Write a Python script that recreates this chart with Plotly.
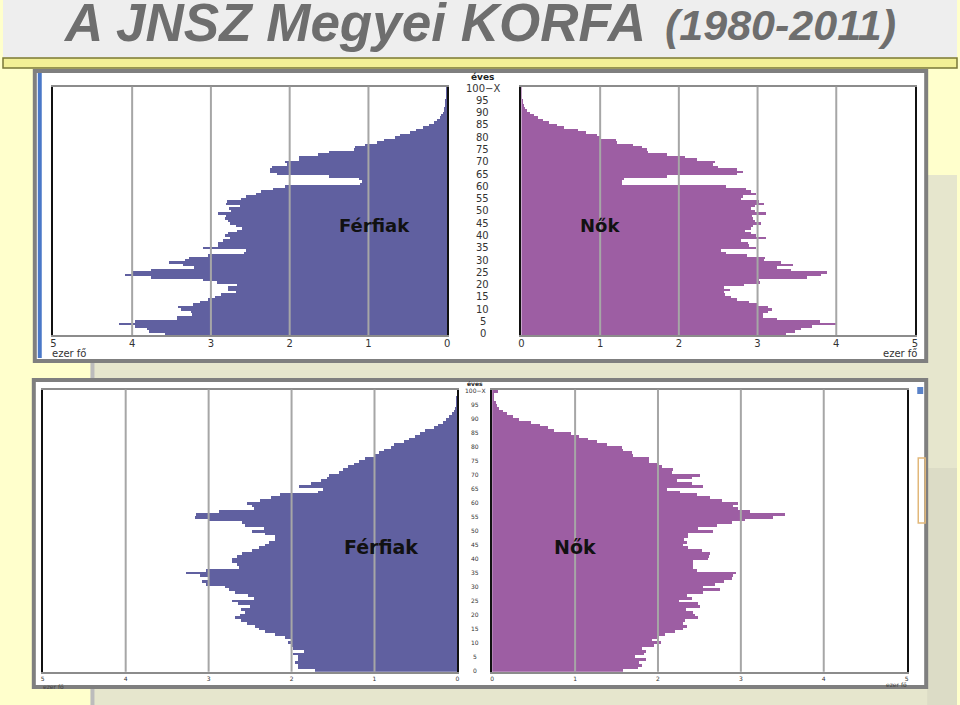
import plotly.graph_objects as go

W, H = 960, 705

# ---------------- data ----------------
ages = list(range(101))
age_tick_vals = list(range(0, 100, 5))
age_tick_text = [str(v) for v in age_tick_vals]
top_age_label = "100\u2212X"
age_unit = "éves"
x_tick_vals = [0, 1, 2, 3, 4, 5]
x_tick_text = ["0", "1", "2", "3", "4", "5"]
grid_vals = [1, 2, 3, 4]
unit_label = "ezer fő"
men_label = "Férfiak"
women_label = "Nők"
title_main = "A JNSZ Megyei KORFA"
title_years = "(1980-2011)"

# thousand persons, ages 0..100 (1980)
men_1980 = [
    3.58, 3.78, 3.81, 3.96, 4.16, 3.96, 3.42, 3.42, 3.24, 3.25,
    3.38, 3.41, 3.22, 3.14, 3.03, 2.94, 2.87, 2.68, 2.78, 2.78,
    2.67, 2.92, 3.10, 3.75, 4.08, 4.00, 3.76, 3.21, 3.35, 3.53,
    3.32, 3.27, 3.03, 2.57, 2.55, 3.10, 2.91, 2.91, 2.84, 2.75,
    2.82, 2.78, 2.66, 2.60, 2.68, 2.75, 2.78, 2.81, 2.80, 2.90,
    2.74, 2.77, 2.63, 2.80, 2.79, 2.61, 2.55, 2.42, 2.36, 2.21,
    2.05, 1.10, 1.08, 1.12, 1.49, 2.15, 2.24, 2.24, 2.22, 2.03,
    2.05, 1.88, 1.88, 1.63, 1.49, 1.18, 1.16, 1.04, 0.89, 0.80,
    0.66, 0.60, 0.47, 0.39, 0.30, 0.22, 0.16, 0.13, 0.09, 0.07,
    0.05, 0.04, 0.03, 0.025, 0.02, 0.015, 0.01, 0.008, 0.005, 0.004,
    0.003,
]
women_1980 = [
    3.37, 3.48, 3.56, 3.70, 4.00, 3.80, 3.25, 3.07, 3.08, 3.14,
    3.19, 3.14, 3.01, 2.90, 2.74, 2.67, 2.59, 2.58, 2.65, 2.58,
    2.83, 3.04, 3.03, 3.64, 3.81, 3.89, 3.43, 3.25, 3.45, 3.30,
    3.09, 3.10, 2.87, 2.61, 2.54, 2.98, 2.90, 2.89, 2.79, 3.11,
    2.98, 2.92, 2.84, 2.92, 2.95, 3.05, 2.97, 2.95, 2.93, 3.11,
    2.97, 2.92, 2.97, 3.09, 3.03, 2.79, 2.82, 2.98, 2.92, 2.86,
    2.61, 1.28, 1.28, 1.31, 1.85, 2.74, 2.82, 2.75, 2.50, 2.44,
    2.47, 2.24, 2.09, 1.85, 1.61, 1.60, 1.54, 1.42, 1.22, 1.21,
    1.01, 0.97, 0.82, 0.72, 0.54, 0.46, 0.36, 0.28, 0.21, 0.16,
    0.11, 0.07, 0.05, 0.035, 0.025, 0.018, 0.012, 0.008, 0.005, 0.004,
    0.003,
]
# thousand persons, ages 0..100 (2011)
men_2011 = [
    1.72, 1.92, 1.93, 1.96, 1.92, 1.92, 1.98, 1.85, 1.98, 2.00,
    2.05, 2.01, 2.08, 2.20, 2.32, 2.39, 2.44, 2.54, 2.61, 2.68,
    2.62, 2.56, 2.61, 2.50, 2.65, 2.72, 2.46, 2.53, 2.68, 2.76,
    2.81, 3.04, 3.08, 3.01, 3.11, 3.28, 3.04, 2.64, 2.66, 2.72,
    2.72, 2.66, 2.60, 2.48, 2.40, 2.32, 2.28, 2.20, 2.20, 2.32,
    2.48, 2.33, 2.56, 2.60, 3.00, 3.17, 3.16, 2.88, 2.45, 2.48,
    2.54, 2.38, 2.25, 2.14, 1.69, 1.62, 1.91, 1.77, 1.65, 1.57,
    1.55, 1.43, 1.38, 1.32, 1.25, 1.19, 1.12, 1.01, 0.95, 0.89,
    0.81, 0.77, 0.65, 0.59, 0.51, 0.45, 0.39, 0.29, 0.24, 0.18,
    0.14, 0.10, 0.07, 0.05, 0.035, 0.025, 0.02, 0.015, 0.01, 0.008,
    0.005,
]
women_2011 = [
    1.58, 1.76, 1.81, 1.77, 1.86, 1.72, 1.83, 1.86, 1.81, 1.95,
    2.04, 1.93, 2.01, 2.09, 2.21, 2.30, 2.35, 2.30, 2.33, 2.48,
    2.45, 2.43, 2.34, 2.51, 2.49, 2.26, 2.41, 2.35, 2.54, 2.75,
    2.54, 2.69, 2.80, 2.89, 2.91, 2.95, 2.47, 2.43, 2.42, 2.43,
    2.61, 2.62, 2.63, 2.53, 2.37, 2.30, 2.35, 2.32, 2.37, 2.37,
    2.67, 2.48, 2.71, 2.90, 3.05, 3.39, 3.53, 3.11, 2.97, 2.91,
    2.97, 2.77, 2.63, 2.47, 2.27, 2.11, 2.54, 2.41, 2.23, 2.41,
    2.51, 2.17, 2.18, 2.05, 2.01, 1.90, 1.89, 1.70, 1.69, 1.58,
    1.57, 1.39, 1.27, 1.16, 1.05, 0.95, 0.75, 0.67, 0.58, 0.47,
    0.32, 0.25, 0.18, 0.13, 0.09, 0.06, 0.045, 0.03, 0.02, 0.015,
    0.07,
]

MEN_COLOR = "#6060a0"
WOMEN_COLOR = "#9d5ea3"
AX_FONT = "DejaVu Sans, Verdana, sans-serif"
TITLE_FONT = "Liberation Sans, Arial, sans-serif"


def px(x):
    return x / W


def py(y):
    return 1 - y / H


fig = go.Figure()

panels = [
    dict(men=men_1980, women=women_1980,
         ydom=[py(335), py(86.8)], xdomL=[px(50.7), px(447)], xdomR=[px(521.7), px(917.7)],
         tick=10, standoff=-2, lab=10, unit_size=9, lab_x=483, unit_shift=11, name_size=18),
    dict(men=men_2011, women=women_2011,
         ydom=[py(671.7), py(389.5)], xdomL=[px(40), px(457.3)], xdomR=[px(492.3), px(909.3)],
         tick=6, standoff=0, lab=6, unit_size=6, lab_x=475, unit_shift=7, name_size=19),
]

annotations = []
shapes = []

# ---------- slide background shapes ----------
shapes += [
    dict(type="rect", xref="paper", yref="paper", x0=0, x1=1, y0=py(57), y1=1,
         fillcolor="#eeeeee", line=dict(width=0), layer="below"),
    dict(type="rect", xref="paper", yref="paper", x0=0, x1=1, y0=py(68), y1=py(58),
         fillcolor="#f3f096", line=dict(color="#7a7738", width=1.5), layer="below"),
    dict(type="rect", xref="paper", yref="paper", x0=px(90), x1=1, y0=0, y1=py(175),
         fillcolor="#e6e6cd", line=dict(width=0), layer="below"),
    dict(type="line", xref="paper", yref="paper", x0=px(90), x1=px(90), y0=0, y1=py(362),
         line=dict(color="#bcbcbc", width=4), layer="below"),
    dict(type="rect", xref="paper", yref="paper", x0=px(930), x1=1, y0=0, y1=py(468),
         fillcolor="#dcdcc6", line=dict(width=0), layer="below"),
    dict(type="rect", xref="paper", yref="paper", x0=px(32), x1=px(929), y0=py(361), y1=py(71),
         fillcolor="white", line=dict(color="#7f7f7f", width=4), layer="below"),
    dict(type="rect", xref="paper", yref="paper", x0=px(35), x1=px(39), y0=py(358), y1=py(73),
         fillcolor="#4a78c8", line=dict(width=0), layer="below"),
    dict(type="rect", xref="paper", yref="paper", x0=px(31), x1=px(929), y0=py(687), y1=py(380),
         fillcolor="white", line=dict(color="#7f7f7f", width=4), layer="below"),
    dict(type="rect", xref="paper", yref="paper", x0=px(921), x1=px(928), y0=py(523), y1=py(458),
         fillcolor="rgba(0,0,0,0)", line=dict(color="#e2b87a", width=1.5), layer="below"),
    dict(type="rect", xref="paper", yref="paper", x0=px(920), x1=px(926), y0=py(394), y1=py(387),
         fillcolor="#5a82c8", line=dict(width=0), layer="below"),
]

layout_axes = {}
idx = 1
for p in panels:
    for side in ("L", "R"):
        xa = "x" if idx == 1 else f"x{idx}"
        ya = "y" if idx == 1 else f"y{idx}"
        xname = "xaxis" if idx == 1 else f"xaxis{idx}"
        yname = "yaxis" if idx == 1 else f"yaxis{idx}"
        vals = p["men"] if side == "L" else p["women"]
        color = MEN_COLOR if side == "L" else WOMEN_COLOR
        fig.add_trace(go.Bar(x=vals, y=ages, orientation="h", xaxis=xa, yaxis=ya,
                             marker=dict(color=color, line=dict(width=0)),
                             showlegend=False, hoverinfo="x+y"))
        layout_axes[xname] = dict(
            domain=p["xdomL"] if side == "L" else p["xdomR"],
            anchor=ya,
            range=[5, 0] if side == "L" else [0, 5],
            tickvals=x_tick_vals, ticktext=x_tick_text,
            tickfont=dict(family=AX_FONT, size=p["tick"], color="#333333"),
            ticklabelstandoff=p["standoff"],
            ticks="", showgrid=False, zeroline=False,
            showline=True, mirror=True, linecolor="#8c8c8c", linewidth=2,
            fixedrange=True,
        )
        layout_axes[yname] = dict(
            domain=p["ydom"], anchor=xa, range=[-0.5, 100.5],
            showticklabels=False, ticks="", showgrid=False, zeroline=False,
            showline=True, mirror=True, linecolor="#111111", linewidth=2,
            fixedrange=True,
        )
        for g in grid_vals:
            shapes.append(dict(type="line", xref=xa, yref=f"{ya} domain", x0=g, x1=g, y0=0, y1=1,
                               line=dict(color="#a6a6a6", width=2), layer="above"))
        if side == "L":
            for v, t in zip(age_tick_vals, age_tick_text):
                annotations.append(dict(x=px(p["lab_x"]), xref="paper", y=v, yref=ya, text=t,
                                        showarrow=False, xanchor="center", yanchor="middle",
                                        font=dict(family=AX_FONT, size=p["lab"], color="#333333")))
            annotations.append(dict(x=px(p["lab_x"]), xref="paper", y=100, yref=ya, text=top_age_label,
                                    showarrow=False, xanchor="center", yanchor="middle",
                                    font=dict(family=AX_FONT, size=p["lab"], color="#333333")))
            annotations.append(dict(x=px(p["lab_x"]), xref="paper", y=100, yref=ya, text=age_unit,
                                    showarrow=False, xanchor="center", yanchor="middle",
                                    yshift=p["unit_shift"],
                                    font=dict(family=AX_FONT, size=p["unit_size"], color="#222222",
                                              weight="bold")))
            annotations.append(dict(x=0.92, xref=xa, y=44, yref=ya, text=men_label,
                                    showarrow=False, xanchor="center", yanchor="middle",
                                    font=dict(family=AX_FONT, size=p["name_size"],
                                              color="#111111", weight="bold")))
        else:
            annotations.append(dict(x=1.0, xref=xa, y=44, yref=ya, text=women_label,
                                    showarrow=False, xanchor="center", yanchor="middle",
                                    font=dict(family=AX_FONT, size=p["name_size"],
                                              color="#111111", weight="bold")))
        idx += 1

# unit labels
annotations += [
    dict(x=px(47), y=py(354), xref="paper", yref="paper", text=unit_label, showarrow=False,
         xanchor="left", yanchor="middle", font=dict(family=AX_FONT, size=10, color="#333333")),
    dict(x=px(922), y=py(354), xref="paper", yref="paper", text=unit_label, showarrow=False,
         xanchor="right", yanchor="middle", font=dict(family=AX_FONT, size=10, color="#333333")),
    dict(x=px(38), y=py(686), xref="paper", yref="paper", text=unit_label, showarrow=False,
         xanchor="left", yanchor="middle", font=dict(family=AX_FONT, size=6, color="#444444")),
    dict(x=px(912), y=py(684), xref="paper", yref="paper", text=unit_label, showarrow=False,
         xanchor="right", yanchor="middle", font=dict(family=AX_FONT, size=6, color="#444444")),
]

# slide title
annotations += [
    dict(x=px(58), y=py(22), xref="paper", yref="paper", text=title_main, showarrow=False,
         xanchor="left", yanchor="middle",
         font=dict(family=TITLE_FONT, size=53, color="#6e6e6e", weight="bold", style="italic")),
    dict(x=px(664), y=py(25), xref="paper", yref="paper", text=title_years, showarrow=False,
         xanchor="left", yanchor="middle",
         font=dict(family=TITLE_FONT, size=43, color="#6e6e6e", weight="bold", style="italic")),
]

fig.update_layout(
    width=W, height=H,
    margin=dict(l=0, r=0, t=0, b=0),
    paper_bgcolor="#ffffcc",
    plot_bgcolor="white",
    bargap=0,
    showlegend=False,
    shapes=shapes,
    annotations=annotations,
    **layout_axes,
)

fig.write_html("out.html")
